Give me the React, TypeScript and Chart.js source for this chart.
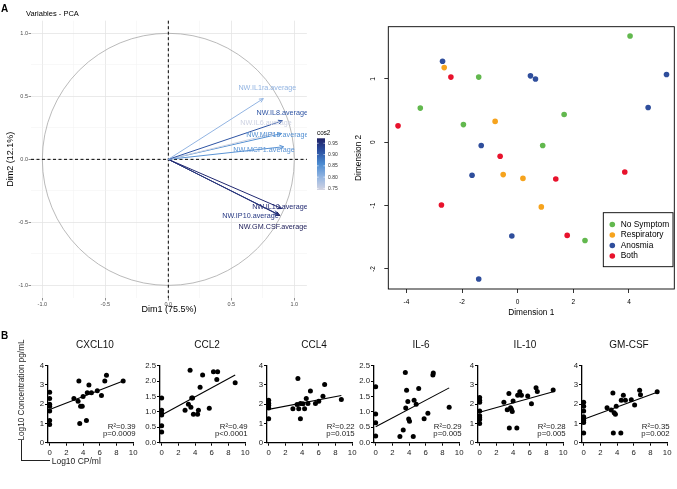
import React, { useEffect, useRef } from "react";
import { Chart, registerables } from "chart.js";

Chart.register(...registerables);

const FONT = "'Liberation Sans', Arial, Helvetica, sans-serif";
const NARROW = "'Liberation Sans Narrow', 'Arial Narrow', 'Liberation Sans', Arial, sans-serif";

// ---------- Panel A (left): PCA variables ----------
const pcaVariables = [
  "NW.IL1ra.average",
  "NW.IL8.average",
  "NW.IL6.average",
  "NW.MIP1b.average",
  "NW.MCP1.average",
  "NW.IL10.average",
  "NW.IP10.average",
  "NW.GM.CSF.average",
];
const pcaDim1 = [0.754, 0.905, 0.84, 0.9, 0.915, 0.9, 0.87, 0.885];
const pcaDim2 = [0.482, 0.306, 0.205, 0.205, 0.1, -0.39, -0.435, -0.445];
const pcaLabelDim1 = [0.786, 0.904, 0.775, 0.866, 0.76, 0.886, 0.652, 0.83];
const pcaLabelDim2 = [0.568, 0.37, 0.29, 0.193, 0.074, -0.376, -0.45, -0.535];
const pcaAxisTicks = [-1, -0.5, 0, 0.5, 1];
const cos2LegendTicks = [0.75, 0.8, 0.85, 0.9, 0.95];
const cos2Min = 0.743;
const cos2Max = 0.972;

// ---------- Panel A (right): MDS scatter ----------
const groupNames = ["No Symptom", "Respiratory", "Anosmia", "Both"];
const groupColors = ["#62b84e", "#f6a31d", "#2f4e9c", "#e8122c"];
const noSymptomDim1 = [4.04, -1.4, -3.5, 1.67, -1.95, 0.9, 2.42];
const noSymptomDim2 = [1.68, 1.03, 0.54, 0.44, 0.28, -0.05, -1.55];
const respiratoryDim1 = [-2.64, -0.81, -0.52, 0.19, 0.85];
const respiratoryDim2 = [1.18, 0.33, -0.51, -0.57, -1.02];
const anosmiaDim1 = [-2.7, 0.46, 0.64, 5.35, 4.69, -1.31, -1.64, -0.21, -1.4];
const anosmiaDim2 = [1.28, 1.05, 1.0, 1.07, 0.55, -0.05, -0.52, -1.48, -2.16];
const bothDim1 = [-2.4, -4.3, -0.63, 1.37, 3.85, -2.74, 1.78];
const bothDim2 = [1.03, 0.26, -0.22, -0.58, -0.47, -0.99, -1.47];

// ---------- Panel B: correlations ----------
const bTitles = ["CXCL10", "CCL2", "CCL4", "IL-6", "IL-10", "GM-CSF"];
const bR2 = ["R²=0.39", "R²=0.49", "R²=0.22", "R²=0.29", "R²=0.28", "R²=0.35"];
const bP = ["p=0.0009", "p<0.0001", "p=0.015", "p=0.005", "p=0.005", "p=0.002"];
const bYMax = [4, 2.5, 4, 2.5, 4, 4];
const bYStep = [1, 0.5, 1, 0.5, 1, 1];
const bXTicks = [0, 2, 4, 6, 8, 10];

const cxcl10X = [0, 0, 0, 0, 0, 0, 0, 2.9, 3.4, 3.5, 3.6, 3.7, 3.9, 4.0, 4.4, 4.5, 4.7, 5.0, 5.7, 6.2, 6.6, 6.8, 8.8];
const cxcl10Y = [2.62, 2.3, 2.0, 1.9, 1.65, 1.15, 0.95, 2.3, 2.15, 3.2, 1.0, 1.9, 1.9, 2.4, 1.15, 2.6, 3.0, 2.6, 2.7, 2.45, 3.2, 3.5, 3.2];
const cxcl10FitX = [0, 8.8];
const cxcl10FitY = [1.72, 3.2];

const ccl2X = [0, 0, 0, 0, 0, 0, 2.8, 3.2, 3.4, 3.5, 3.6, 3.7, 3.8, 4.3, 4.4, 4.6, 4.9, 5.7, 6.2, 6.6, 6.7, 8.8];
const ccl2Y = [1.45, 1.05, 0.95, 0.9, 0.55, 0.35, 1.05, 1.25, 2.35, 1.15, 1.45, 1.45, 0.92, 0.92, 1.05, 1.8, 2.2, 1.12, 2.3, 2.05, 2.3, 1.95];
const ccl2FitX = [0, 8.8];
const ccl2FitY = [0.9, 2.2];

const ccl4X = [0, 0, 0, 0, 0, 2.9, 3.4, 3.5, 3.6, 3.8, 3.8, 4.1, 4.3, 4.5, 4.7, 5.0, 5.6, 6.0, 6.5, 6.7, 8.7];
const ccl4Y = [2.2, 2.05, 1.95, 1.8, 1.25, 1.77, 1.98, 3.33, 1.77, 2.04, 1.25, 2.02, 1.77, 2.29, 2.04, 2.68, 2.04, 2.15, 2.41, 3.02, 2.24];
const ccl4FitX = [0, 8.7];
const ccl4FitY = [1.73, 2.45];

const il6X = [0, 0, 0, 0, 2.9, 3.3, 3.55, 3.6, 3.7, 3.85, 3.95, 4.05, 4.5, 4.6, 4.85, 5.15, 5.8, 6.25, 6.85, 6.9, 8.8];
const il6Y = [1.82, 0.93, 0.65, 0.22, 0.2, 0.41, 2.28, 1.13, 1.7, 1.34, 0.77, 0.7, 0.2, 1.38, 1.25, 1.76, 0.78, 0.96, 2.2, 2.26, 1.15];
const il6FitX = [0, 8.8];
const il6FitY = [0.52, 1.78];

const il10X = [0, 0, 0, 0, 0, 0, 0, 0, 2.9, 3.3, 3.5, 3.55, 3.7, 3.8, 3.9, 4.0, 4.45, 4.55, 4.8, 5.0, 5.75, 6.2, 6.75, 6.9, 8.8];
const il10Y = [2.35, 2.2, 2.1, 1.65, 1.4, 1.3, 1.2, 1.0, 2.1, 1.71, 2.55, 0.76, 1.82, 1.74, 1.62, 2.16, 0.76, 2.46, 2.65, 2.46, 2.43, 2.02, 2.86, 2.66, 2.74];
const il10FitX = [0, 8.8];
const il10FitY = [1.58, 2.65];

const gmcsfX = [0, 0, 0, 0, 0, 0, 0, 0, 2.8, 3.3, 3.5, 3.55, 3.65, 3.8, 3.9, 4.45, 4.5, 4.75, 5.0, 5.7, 6.1, 6.7, 6.8, 8.8];
const gmcsfY = [2.1, 1.9, 1.65, 1.35, 1.25, 1.15, 1.05, 0.5, 1.82, 1.7, 2.58, 0.5, 1.56, 1.48, 1.9, 0.5, 2.21, 2.46, 2.21, 2.23, 1.96, 2.72, 2.49, 2.65];
const gmcsfFitX = [0, 8.8];
const gmcsfFitY = [1.22, 2.62];

const bXs = [cxcl10X, ccl2X, ccl4X, il6X, il10X, gmcsfX];
const bYs = [cxcl10Y, ccl2Y, ccl4Y, il6Y, il10Y, gmcsfY];
const bFitXs = [cxcl10FitX, ccl2FitX, ccl4FitX, il6FitX, il10FitX, gmcsfFitX];
const bFitYs = [cxcl10FitY, ccl2FitY, ccl4FitY, il6FitY, il10FitY, gmcsfFitY];

// ---------- helpers ----------
const zip = (xs: number[], ys: number[]) => xs.map((x, i) => ({ x, y: ys[i] }));

const cos2Stops: [number, string][] = [
  [0.74, "#d6d6e2"],
  [0.8, "#93b5e2"],
  [0.86, "#4a8ad0"],
  [0.92, "#2a4d9e"],
  [0.96, "#212a73"],
  [0.98, "#1a1a56"],
];
function hexRgb(h: string) {
  const n = parseInt(h.slice(1), 16);
  return [(n >> 16) & 255, (n >> 8) & 255, n & 255];
}
function cos2Color(v: number) {
  if (v <= cos2Stops[0][0]) return cos2Stops[0][1];
  for (let i = 1; i < cos2Stops.length; i++) {
    if (v <= cos2Stops[i][0]) {
      const [v0, c0] = cos2Stops[i - 1];
      const [v1, c1] = cos2Stops[i];
      const t = (v - v0) / (v1 - v0);
      const a = hexRgb(c0), b = hexRgb(c1);
      const c = a.map((k, j) => Math.round(k + (b[j] - k) * t));
      return `rgb(${c[0]},${c[1]},${c[2]})`;
    }
  }
  return cos2Stops[cos2Stops.length - 1][1];
}
const cos2Of = (i: number) => pcaDim1[i] * pcaDim1[i] + pcaDim2[i] * pcaDim2[i];

// ---------- PCA panel ----------
const pcaDecor = {
  id: "pcaDecor",
  beforeDatasetsDraw(chart: any) {
    const { ctx, chartArea: a, scales } = chart;
    const x = scales.x, y = scales.y;
    const cx = x.getPixelForValue(0), cy = y.getPixelForValue(0);
    const rx = x.getPixelForValue(1) - cx, ry = cy - y.getPixelForValue(1);
    ctx.save();
    ctx.strokeStyle = "#a8a8a8";
    ctx.lineWidth = 0.8;
    ctx.beginPath();
    ctx.ellipse(cx, cy, rx, ry, 0, 0, Math.PI * 2);
    ctx.stroke();
    ctx.setLineDash([3, 2.5]);
    ctx.strokeStyle = "#000";
    ctx.lineWidth = 1;
    ctx.beginPath();
    ctx.moveTo(a.left, cy);
    ctx.lineTo(a.right, cy);
    ctx.moveTo(cx, a.top);
    ctx.lineTo(cx, a.bottom);
    ctx.stroke();
    ctx.restore();
  },
  afterDatasetsDraw(chart: any) {
    const { ctx, chartArea: a, scales } = chart;
    ctx.save();
    chart.data.datasets.forEach((ds: any, i: number) => {
      const meta = chart.getDatasetMeta(i);
      const p0 = meta.data[0], p1 = meta.data[1];
      const ang = Math.atan2(p1.y - p0.y, p1.x - p0.x);
      const L = 4.5, spread = 0.45;
      ctx.strokeStyle = ds.borderColor;
      ctx.lineWidth = 1;
      ctx.beginPath();
      ctx.moveTo(p1.x - L * Math.cos(ang - spread), p1.y - L * Math.sin(ang - spread));
      ctx.lineTo(p1.x, p1.y);
      ctx.lineTo(p1.x - L * Math.cos(ang + spread), p1.y - L * Math.sin(ang + spread));
      ctx.stroke();
    });
    ctx.beginPath();
    ctx.rect(a.left, a.top, a.right - a.left, a.bottom - a.top);
    ctx.clip();
    ctx.font = `7.2px ${FONT}`;
    ctx.textAlign = "center";
    ctx.textBaseline = "middle";
    pcaVariables.forEach((name, i) => {
      ctx.fillStyle = cos2Color(cos2Of(i));
      ctx.fillText(name, scales.x.getPixelForValue(pcaLabelDim1[i]), scales.y.getPixelForValue(pcaLabelDim2[i]));
    });
    ctx.restore();
  },
  afterDraw(chart: any) {
    const { ctx } = chart;
    ctx.save();
    ctx.fillStyle = "#000";
    ctx.font = `7.5px ${FONT}`;
    ctx.textAlign = "left";
    ctx.textBaseline = "middle";
    ctx.fillText("Variables - PCA", 26, 14);
    // colour bar legend
    const barL = 317, barR = 325, barTop = 138.3, barBottom = 190;
    const yFor = (v: number) => barBottom - ((v - cos2Min) / (cos2Max - cos2Min)) * (barBottom - barTop);
    const g = ctx.createLinearGradient(0, barBottom, 0, barTop);
    g.addColorStop(0, cos2Color(cos2Min));
    cos2Stops.forEach(([v, c]) => {
      const t = (v - cos2Min) / (cos2Max - cos2Min);
      if (t > 0 && t < 1) g.addColorStop(t, c);
    });
    g.addColorStop(1, cos2Color(cos2Max));
    ctx.fillStyle = g;
    ctx.fillRect(barL, barTop, barR - barL, barBottom - barTop);
    ctx.strokeStyle = "#fff";
    ctx.lineWidth = 0.6;
    ctx.font = `5px ${FONT}`;
    ctx.fillStyle = "#333";
    cos2LegendTicks.forEach((v) => {
      const yy = yFor(v);
      ctx.beginPath();
      ctx.moveTo(barL, yy);
      ctx.lineTo(barL + 1.6, yy);
      ctx.moveTo(barR - 1.6, yy);
      ctx.lineTo(barR, yy);
      ctx.stroke();
      ctx.fillText(v.toFixed(2), barR + 3, yy);
    });
    ctx.fillStyle = "#000";
    ctx.font = `6.3px ${FONT}`;
    ctx.fillText("cos2", barL, 133);
    ctx.restore();
  },
};

function PcaPanel() {
  const ref = useRef<HTMLCanvasElement>(null);
  useEffect(() => {
    const W = 345, H = 320;
    const plotLeft = 31, plotRight = 306.9, plotTop = 20.7, plotBottom = 298;
    const isMajor = (v: number) => pcaAxisTicks.some((t) => Math.abs(t - v) < 1e-6);
    const axis = (title: string, isX: boolean) => ({
      type: "linear",
      min: isX ? -1.09 : -1.1,
      max: 1.1,
      border: { display: false },
      grid: {
        color: (c: any) => (isMajor(c.tick.value) ? "#e4e4e4" : "#f0f0f0"),
        lineWidth: (c: any) => (isMajor(c.tick.value) ? 0.8 : 0.5),
        drawTicks: true,
        tickLength: 2.5,
        tickColor: (c: any) => (isMajor(c.tick.value) ? "#444" : "rgba(0,0,0,0)"),
        tickWidth: 0.6,
      },
      ticks: {
        stepSize: 0.25,
        includeBounds: false,
        autoSkip: false,
        maxRotation: 0,
        padding: 0.5,
        color: "#4d4d4d",
        font: { family: FONT, size: 5.5 },
        callback: (v: any) => (isMajor(Number(v)) ? Number(v).toFixed(1) : ""),
      },
      title: {
        display: true,
        text: title,
        color: "#000",
        font: { family: FONT, size: 9 },
        padding: isX ? { top: 0, bottom: 4.6 } : { top: 5.4, bottom: 0 },
      },
      afterFit: (s: any) => {
        if (isX) s.height = H - plotBottom;
        else s.width = plotLeft;
      },
    });
    const chart = new Chart(ref.current as HTMLCanvasElement, {
      type: "scatter",
      data: {
        datasets: pcaVariables.map((name, i) => ({
          label: name,
          data: [
            { x: 0, y: 0 },
            { x: pcaDim1[i], y: pcaDim2[i] },
          ],
          showLine: true,
          borderColor: cos2Color(cos2Of(i)),
          backgroundColor: cos2Color(cos2Of(i)),
          borderWidth: 1,
          pointRadius: 0,
          pointHoverRadius: 0,
          clip: false,
        })),
      },
      options: {
        responsive: false,
        animation: false,
        events: [],
        layout: { autoPadding: false, padding: { left: 0, top: plotTop, right: W - plotRight, bottom: 0 } },
        plugins: { legend: { display: false }, tooltip: { enabled: false } },
        scales: { x: axis("Dim1 (75.5%)", true), y: axis("Dim2 (12.1%)", false) },
      } as any,
      plugins: [pcaDecor],
    });
    return () => chart.destroy();
  }, []);
  return <canvas ref={ref} width={345} height={320} style={{ position: "absolute", left: 0, top: 0, width: 345, height: 320 }} />;
}

// ---------- MDS scatter ----------
const mdsDecor = {
  id: "mdsDecor",
  afterDraw(chart: any) {
    const { ctx, chartArea: a } = chart;
    ctx.save();
    ctx.strokeStyle = "#000";
    ctx.lineWidth = 0.9;
    ctx.strokeRect(a.left, a.top, a.right - a.left, a.bottom - a.top);
    const bx0 = a.right - 71, bx1 = a.right - 1.3, by0 = a.bottom - 76.3, by1 = a.bottom - 22.3;
    ctx.fillStyle = "#fff";
    ctx.fillRect(bx0, by0, bx1 - bx0, by1 - by0);
    ctx.strokeRect(bx0, by0, bx1 - bx0, by1 - by0);
    ctx.font = `8.4px ${FONT}`;
    ctx.textAlign = "left";
    ctx.textBaseline = "middle";
    groupNames.forEach((name, i) => {
      const yy = by0 + 11.8 + i * 10.5;
      ctx.fillStyle = groupColors[i];
      ctx.beginPath();
      ctx.arc(bx0 + 9, yy, 2.8, 0, Math.PI * 2);
      ctx.fill();
      ctx.fillStyle = "#000";
      ctx.fillText(name, bx0 + 17.4, yy);
    });
    ctx.restore();
  },
};

function MdsPanel() {
  const ref = useRef<HTMLCanvasElement>(null);
  useEffect(() => {
    const W = 332, H = 325;
    const plotLeft = 43.3, plotRight = 329.3, plotTop = 26.7, plotBottom = 289;
    const dims = [
      [noSymptomDim1, noSymptomDim2],
      [respiratoryDim1, respiratoryDim2],
      [anosmiaDim1, anosmiaDim2],
      [bothDim1, bothDim2],
    ];
    const gridOpts = { display: true, drawOnChartArea: false, drawTicks: true, tickLength: 4, tickColor: "#000", tickWidth: 0.8 };
    const chart = new Chart(ref.current as HTMLCanvasElement, {
      type: "scatter",
      data: {
        datasets: groupNames.map((name, i) => ({
          label: name,
          data: zip(dims[i][0], dims[i][1]),
          backgroundColor: groupColors[i],
          borderWidth: 0,
          pointRadius: 2.8,
          pointHoverRadius: 2.8,
        })),
      },
      options: {
        responsive: false,
        animation: false,
        events: [],
        layout: { autoPadding: false, padding: { left: 0, top: plotTop, right: W - plotRight, bottom: 0 } },
        plugins: { legend: { display: false }, tooltip: { enabled: false } },
        scales: {
          x: {
            type: "linear",
            min: -4.65,
            max: 5.63,
            border: { display: false },
            grid: gridOpts,
            ticks: { stepSize: 2, includeBounds: false, autoSkip: false, maxRotation: 0, padding: 5, color: "#000", font: { family: FONT, size: 6.5 } },
            title: { display: true, text: "Dimension 1", color: "#000", font: { family: FONT, size: 8.3 }, padding: { top: 0, bottom: 7 } },
            afterFit: (s: any) => { s.height = H - plotBottom; },
          },
          y: {
            type: "linear",
            min: -2.317,
            max: 1.826,
            border: { display: false },
            grid: gridOpts,
            ticks: { stepSize: 1, includeBounds: false, autoSkip: false, minRotation: 90, maxRotation: 90, crossAlign: "center", padding: 8.4, color: "#000", font: { family: FONT, size: 6.5 } },
            title: { display: true, text: "Dimension 2", color: "#000", font: { family: FONT, size: 8.3 }, padding: { top: 9, bottom: 0 } },
            afterFit: (s: any) => { s.width = plotLeft; },
          },
        },
      } as any,
      plugins: [mdsDecor],
    });
    return () => chart.destroy();
  }, []);
  return <canvas ref={ref} width={332} height={325} style={{ position: "absolute", left: 345, top: 0, width: 332, height: 325 }} />;
}

// ---------- Panel B small charts ----------
const bDecor = {
  id: "bDecor",
  afterDraw(chart: any) {
    const o = chart.options.plugins.bDecor;
    const { ctx, chartArea: a } = chart;
    ctx.save();
    ctx.fillStyle = "#111";
    ctx.font = `10px ${FONT}`;
    ctx.textAlign = "center";
    ctx.textBaseline = "middle";
    ctx.fillText(o.title, a.left + 47, a.top - 20);
    ctx.font = `7.8px ${FONT}`;
    ctx.fillStyle = "#222";
    ctx.textAlign = "right";
    ctx.fillText(o.r2, a.right + 2.5, a.bottom - 16);
    ctx.fillText(o.p, a.right + 2.5, a.bottom - 8.4);
    ctx.restore();
  },
};

const bAxisLeft = [47.7, 160.3, 266.7, 374.3, 477.7, 581.7];

function BPanel({ idx }: { idx: number }) {
  const ref = useRef<HTMLCanvasElement>(null);
  const W = 116, H = 135, yAxisW = 22;
  useEffect(() => {
    const plotTop = 30.7, plotBottom = 107.7, plotWidth = 85.2;
    const gridOpts = { display: true, drawOnChartArea: false, drawTicks: true, tickLength: 3, tickColor: "#000", tickWidth: 1 };
    const chart = new Chart(ref.current as HTMLCanvasElement, {
      type: "scatter",
      data: {
        datasets: [
          {
            label: bTitles[idx],
            data: zip(bXs[idx], bYs[idx]),
            backgroundColor: "#000",
            borderWidth: 0,
            pointRadius: 2.5,
            pointHoverRadius: 2.5,
            clip: false,
          },
          {
            label: "fit",
            data: zip(bFitXs[idx], bFitYs[idx]),
            showLine: true,
            borderColor: "#000",
            borderWidth: 1.1,
            pointRadius: 0,
            pointHoverRadius: 0,
            clip: false,
          },
        ],
      },
      options: {
        responsive: false,
        animation: false,
        events: [],
        layout: { autoPadding: false, padding: { left: 0, top: plotTop, right: W - yAxisW - plotWidth, bottom: 0 } },
        plugins: {
          legend: { display: false },
          tooltip: { enabled: false },
          bDecor: { title: bTitles[idx], r2: bR2[idx], p: bP[idx] },
        },
        scales: {
          x: {
            type: "linear",
            min: -0.2,
            max: 10,
            border: { display: true, color: "#000", width: 1.3 },
            grid: gridOpts,
            afterBuildTicks: (s: any) => { s.ticks = bXTicks.map((v) => ({ value: v })); },
            ticks: { autoSkip: false, maxRotation: 0, padding: 2.2, color: "#222", font: { family: NARROW, size: 7.8 } },
            afterFit: (s: any) => { s.height = H - plotBottom; },
          },
          y: {
            type: "linear",
            min: 0,
            max: bYMax[idx],
            border: { display: true, color: "#000", width: 1.3 },
            grid: gridOpts,
            ticks: {
              stepSize: bYStep[idx],
              autoSkip: false,
              padding: 1,
              color: "#222",
              font: { family: NARROW, size: 7.8 },
              callback: (v: any) => (bYStep[idx] < 1 ? Number(v).toFixed(1) : String(v)),
            },
            afterFit: (s: any) => { s.width = yAxisW; },
          },
        },
      } as any,
      plugins: [bDecor],
    });
    return () => chart.destroy();
  }, [idx]);
  return (
    <canvas
      ref={ref}
      width={W}
      height={H}
      style={{ position: "absolute", left: bAxisLeft[idx] - yAxisW, top: 335, width: W, height: H }}
    />
  );
}

export default function App() {
  return (
    <div style={{ position: "fixed", left: 0, top: 0, width: 677, height: 489, background: "#fff", overflow: "hidden", fontFamily: FONT, color: "#000" }}>
      <PcaPanel />
      <MdsPanel />
      {bTitles.map((t, i) => (
        <BPanel key={t} idx={i} />
      ))}
      <div style={{ position: "absolute", left: 1, top: 4, fontSize: 10, fontWeight: "bold", lineHeight: "10px" }}>A</div>
      <div style={{ position: "absolute", left: 1, top: 331, fontSize: 10, fontWeight: "bold", lineHeight: "10px" }}>B</div>
      <div
        style={{
          position: "absolute",
          left: 21.7 - 70,
          top: 390 - 5,
          width: 140,
          height: 10,
          lineHeight: "10px",
          fontSize: 8.2,
          textAlign: "center",
          whiteSpace: "nowrap",
          color: "#222",
          transform: "rotate(-90deg)",
        }}
      >
        Log10 Concentration pg/mL
      </div>
      <div style={{ position: "absolute", left: 21, top: 440, width: 1, height: 21, background: "#222" }} />
      <div style={{ position: "absolute", left: 21, top: 460, width: 29, height: 1, background: "#222" }} />
      <div style={{ position: "absolute", left: 51.7, top: 455.5, fontSize: 8.5, lineHeight: "10px", whiteSpace: "nowrap", color: "#222" }}>
        Log10 CP/ml
      </div>
    </div>
  );
}
